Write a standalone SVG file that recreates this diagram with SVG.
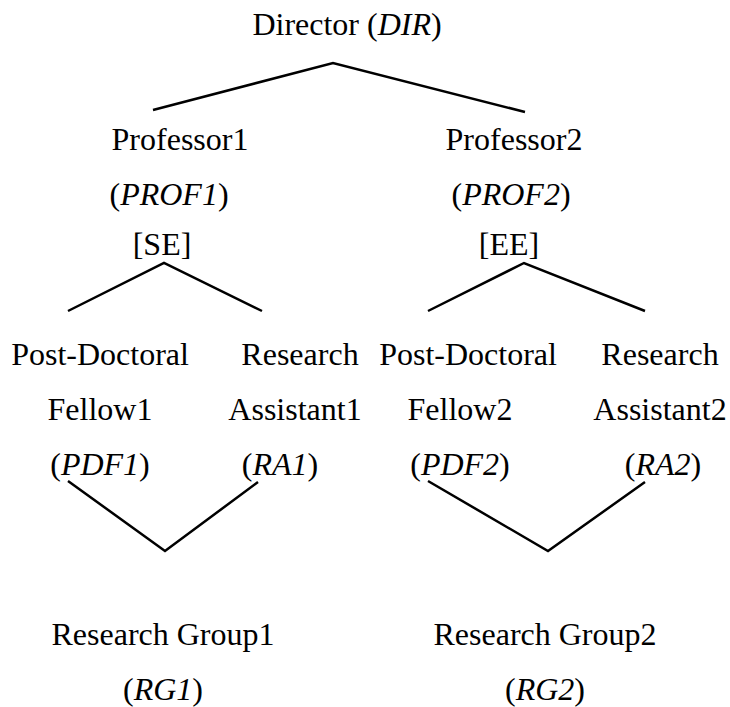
<svg xmlns="http://www.w3.org/2000/svg" width="730" height="707" viewBox="0 0 730 707">
  <style>
    text { font-family: "Liberation Serif", "Times New Roman", serif; font-size: 32px; fill: #000; text-anchor: middle; }
    .it { font-style: italic; }
    .link { fill: none; stroke: #000; stroke-width: 2.5; stroke-linejoin: miter; }
  </style>
  <rect width="730" height="707" fill="#fff"/>

  <!-- tree edges -->
  <g id="connectors">
    <polyline class="link" points="153,110 333,63 525,112"/>
    <polyline class="link" points="68,311 164,263 262,311"/>
    <polyline class="link" points="428,311 524,263 645,311"/>
    <polyline class="link" points="68,481 165,551 258,482"/>
    <polyline class="link" points="428,481 548,551 645,482"/>
  </g>

  <g id="dir">
    <text x="347" y="35">Director (<tspan class="it">DIR</tspan>)</text>
  </g>

  <g id="prof1">
    <text x="180" y="150">Professor1</text>
    <text x="169" y="205">(<tspan class="it">PROF1</tspan>)</text>
    <text x="162" y="255">[SE]</text>
  </g>

  <g id="prof2">
    <text x="514" y="150">Professor2</text>
    <text x="511" y="205">(<tspan class="it">PROF2</tspan>)</text>
    <text x="509" y="255">[EE]</text>
  </g>

  <g id="pdf1">
    <text x="100" y="365">Post-Doctoral</text>
    <text x="100" y="420">Fellow1</text>
    <text x="100" y="475">(<tspan class="it">PDF1</tspan>)</text>
  </g>

  <g id="ra1">
    <text x="300" y="365">Research</text>
    <text x="295" y="420">Assistant1</text>
    <text x="280" y="475">(<tspan class="it">RA1</tspan>)</text>
  </g>

  <g id="pdf2">
    <text x="468" y="365">Post-Doctoral</text>
    <text x="460" y="420">Fellow2</text>
    <text x="460" y="475">(<tspan class="it">PDF2</tspan>)</text>
  </g>

  <g id="ra2">
    <text x="660" y="365">Research</text>
    <text x="660" y="420">Assistant2</text>
    <text x="663" y="475">(<tspan class="it">RA2</tspan>)</text>
  </g>

  <g id="rg1">
    <text x="163" y="645">Research Group1</text>
    <text x="163" y="700">(<tspan class="it">RG1</tspan>)</text>
  </g>

  <g id="rg2">
    <text x="545" y="645">Research Group2</text>
    <text x="545" y="700">(<tspan class="it">RG2</tspan>)</text>
  </g>
</svg>
